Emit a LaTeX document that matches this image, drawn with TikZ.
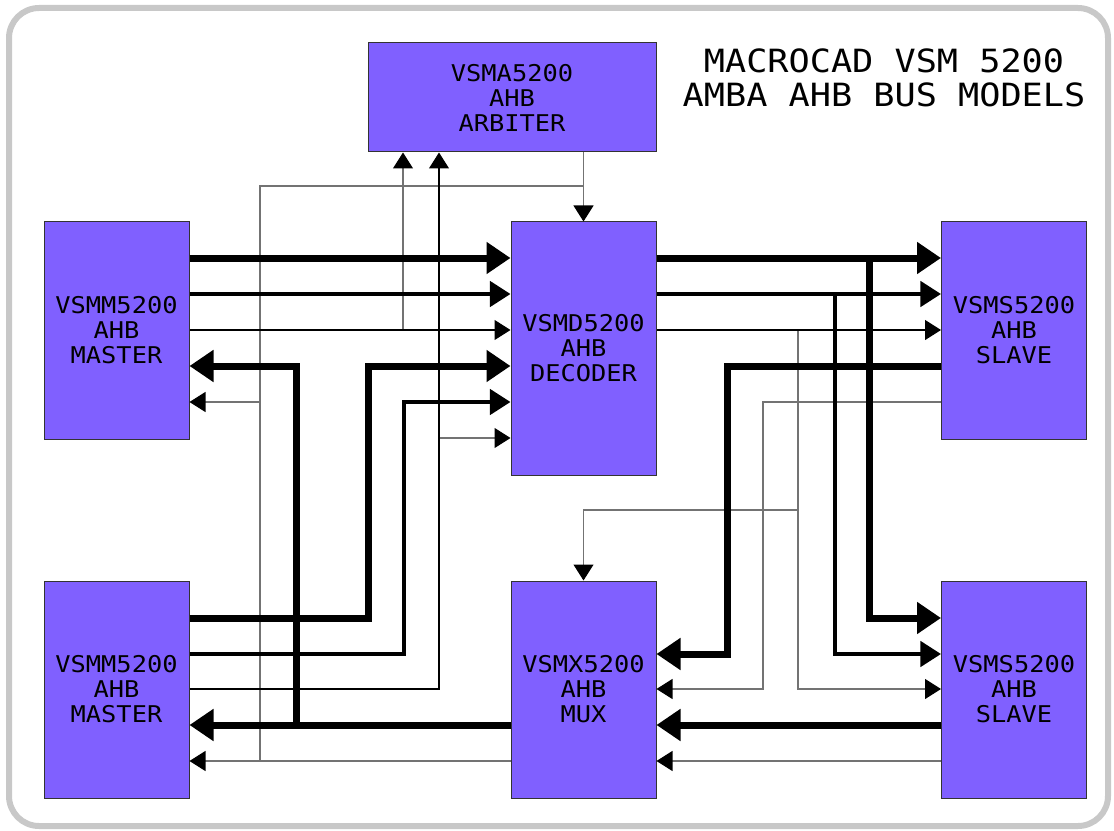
\documentclass[tikz,border=0pt]{standalone}
\usepackage{fontspec}
\newfontfamily\diagfont[FakeStretch=1.1]{DejaVu Sans Mono}
\usepackage{xcolor}
\usepackage{tikz}
\usetikzlibrary{arrows.meta}
\definecolor{unitfill}{RGB}{128,96,255}
\definecolor{framegray}{RGB}{200,200,200}

\begin{document}
\begin{tikzpicture}[
    x=0.75pt, y=-0.75pt,
    every node/.style={font=\diagfont\fontsize{17.3}{18.75}\selectfont},
    unit/.style={draw=black!80, line width=0.75pt, fill=unitfill, align=center, inner sep=0pt, minimum width=108.75pt, minimum height=162.75pt},
    frame/.style={draw=framegray, line width=4.5pt, rounded corners=22.5pt},
    bus/.style={line width=5.25pt, -{Triangle[length=18pt,width=23pt]}},
    mid/.style={line width=3pt, -{Triangle[length=15.5pt,width=19pt]}},
    sig/.style={line width=0.8pt, -{Triangle[length=12pt,width=15pt]}},
    ctl/.style={line width=0.8pt, draw=black!55, -{Triangle[length=12pt,width=15pt,color=black]}}
]
\useasboundingbox (0,0) rectangle (1114,831);
\draw[frame] (9,8) rectangle (1108,826);

% blocks
\node[unit, minimum width=216pt, minimum height=81.75pt] (arb) at (512,97.5) {VSMA5200\\AHB\\ARBITER};
\node[unit] (m1) at (116.5,330.5) {VSMM5200\\AHB\\MASTER};
\node[unit] (m2) at (116.5,689.5) {VSMM5200\\AHB\\MASTER};
\node[unit, minimum height=189.75pt] (dec) at (583.5,348.5) {VSMD5200\\AHB\\DECODER};
\node[unit] (mux) at (583.5,689.5) {VSMX5200\\AHB\\MUX};
\node[unit] (s1) at (1014,330.5) {VSMS5200\\AHB\\SLAVE};
\node[unit] (s2) at (1014,689.5) {VSMS5200\\AHB\\SLAVE};

\node[font=\diagfont\fontsize{24}{25.5}\selectfont, align=center, anchor=north, inner sep=0pt] (title) at (884,48)
    {MACROCAD VSM 5200\\AMBA AHB BUS MODELS};

% control lines (grey)
\draw[ctl] (arb.south -| dec.north) -- (dec.north);
\draw[ctl,-] (arb.south -| dec.north) |- (260,186) -- (260,402);
\draw[ctl] (mux.west |- 0,761) -| (260,402) -- (m1.east |- 0,402);
\draw[ctl] (mux.west |- 0,761) -- (m2.east |- 0,761);
\draw[ctl] (m1.east |- 0,330) -| (arb.south -| 403,0);
\draw[ctl] (m2.east |- 0,689) -| (439,438) -- (dec.west |- 0,438);
\draw[ctl] (dec.east |- 0,330) -| (798,689) -- (s2.west |- 0,689);
\draw[ctl] (dec.east |- 0,330) -| (798,510) -| (mux.north);
\draw[ctl] (s1.west |- 0,402) -| (763,689) -- (mux.east |- 0,689);
\draw[ctl] (s2.west |- 0,761) -- (mux.east |- 0,761);

% master side
\draw[bus] (m1.east |- 0,258) -- (dec.west |- 0,258);
\draw[mid] (m1.east |- 0,294) -- (dec.west |- 0,294);
\draw[sig] (m1.east |- 0,330) -- (dec.west |- 0,330);
\draw[bus] (m2.east |- 0,618) -| (368,366) -- (dec.west |- 0,366);
\draw[mid] (m2.east |- 0,654) -| (404,402) -- (dec.west |- 0,402);
\draw[sig] (m2.east |- 0,689) -| (arb.south -| 439,0);
\draw[bus] (mux.west |- 0,725) -- (m2.east |- 0,725);
\draw[bus] (mux.west |- 0,725) -| (296,366) -- (m1.east |- 0,366);

% slave side
\draw[bus] (dec.east |- 0,258) -- (s1.west |- 0,258);
\draw[bus] (dec.east |- 0,258) -| (869,618) -- (s2.west |- 0,618);
\draw[mid] (dec.east |- 0,294) -- (s1.west |- 0,294);
\draw[mid] (dec.east |- 0,294) -| (835,654) -- (s2.west |- 0,654);
\draw[sig] (dec.east |- 0,330) -- (s1.west |- 0,330);
\draw[bus] (s1.west |- 0,366) -| (727,654) -- (mux.east |- 0,654);
\draw[bus] (s2.west |- 0,725) -- (mux.east |- 0,725);
\end{tikzpicture}
\end{document}
